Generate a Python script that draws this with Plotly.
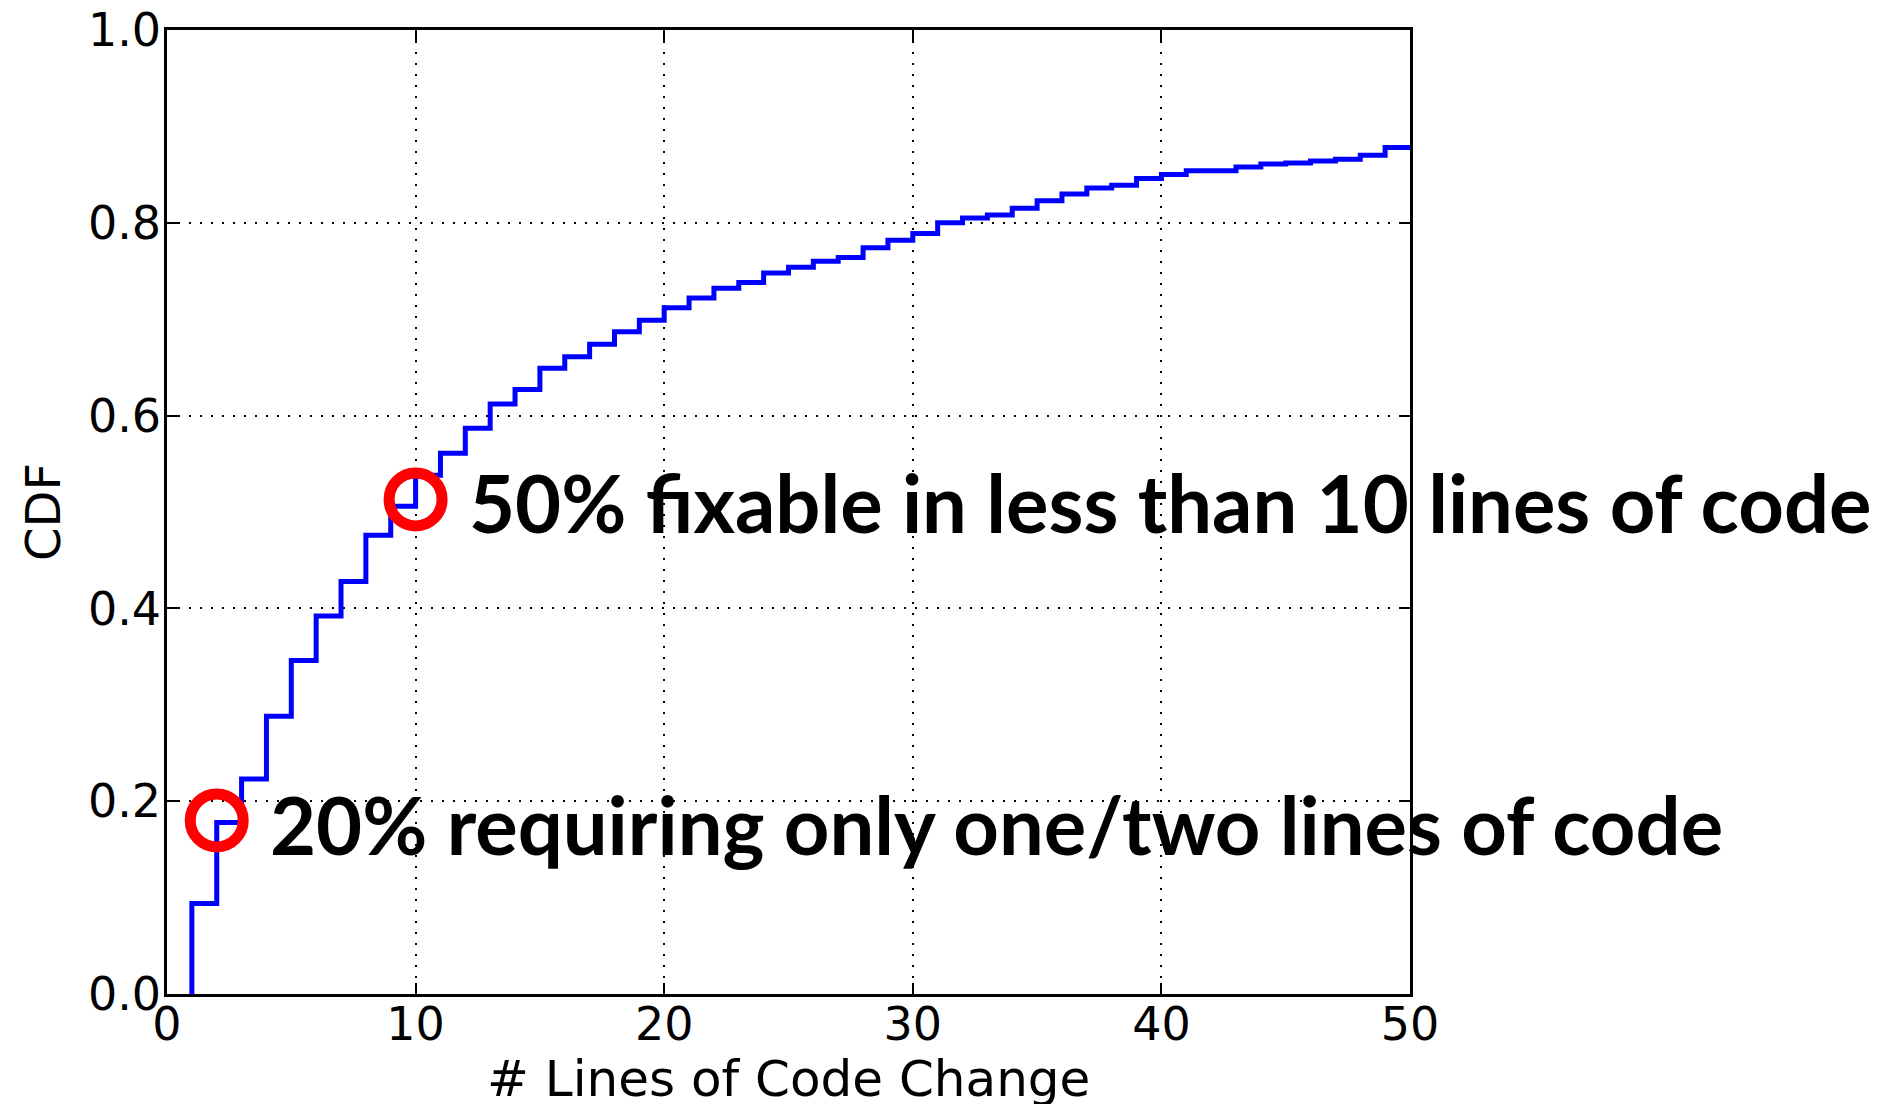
import plotly.graph_objects as go

# Step CDF: level reached at each line count (holds until next integer)
lines_changed = list(range(1, 50))
cdf_values = [0.094, 0.178, 0.223, 0.288, 0.346, 0.392, 0.428, 0.476, 0.506, 0.538,
              0.561, 0.587, 0.612, 0.627, 0.649, 0.661, 0.674, 0.687, 0.699, 0.712,
              0.722, 0.732, 0.738, 0.748, 0.754, 0.760, 0.764, 0.774, 0.782, 0.789,
              0.800, 0.805, 0.808, 0.815, 0.823, 0.830, 0.836, 0.839, 0.846, 0.850,
              0.854, 0.854, 0.858, 0.861, 0.862, 0.864, 0.866, 0.870, 0.878]

x_max = 50
highlight_x = [2, 10]
highlight_y = [0.18, 0.513]
annot_texts = ["20% requiring only one/two lines of code",
               "50% fixable in less than 10 lines of code"]
annot_x = [4.05, 12.05]
annot_y = [0.176, 0.510]
x_title = "# Lines of Code Change"
y_title = "CDF"

xs = [lines_changed[0]] + lines_changed + [x_max]
ys = [0.0] + cdf_values + [cdf_values[-1]]

fig = go.Figure()
fig.add_trace(go.Scatter(x=xs, y=ys, mode="lines", line=dict(color="#0000ff", width=5, shape="hv"),
                         showlegend=False, hoverinfo="skip"))
fig.add_trace(go.Scatter(x=highlight_x, y=highlight_y, mode="markers",
                         marker=dict(symbol="circle-open", size=53, color="#ff0000",
                                     line=dict(color="#ff0000", width=11)),
                         cliponaxis=False, showlegend=False, hoverinfo="skip"))

for t, ax_, ay_ in zip(annot_texts, annot_x, annot_y):
    fig.add_annotation(x=ax_, y=ay_, xref="x", yref="y", text="<b>" + t + "</b>", showarrow=False,
                       xanchor="left", yanchor="middle",
                       font=dict(family="Lato", size=79.5, color="black"))

# x-axis title placed as an annotation so it can sit as low as in the reference
fig.add_annotation(x=0.5, y=-0.056, xref="paper", yref="paper", text=x_title, showarrow=False,
                   xanchor="center", yanchor="top",
                   font=dict(family="DejaVu Sans", size=50, color="black"))

axis_common = dict(showline=True, linecolor="black", linewidth=2.5, mirror="ticks",
                   ticks="inside", ticklen=11, tickwidth=1.5, tickcolor="black",
                   showgrid=True, gridcolor="black", gridwidth=1.6, griddash="2px,9px",
                   zeroline=False, automargin=False, ticklabeloverflow="allow",
                   tickfont=dict(family="DejaVu Sans", size=46, color="black"))

fig.update_xaxes(range=[0, x_max], dtick=10, tick0=0, ticklabelstandoff=-12, **axis_common)
fig.update_yaxes(range=[0, 1], dtick=0.2, tick0=0, tickformat=".1f", ticklabelstandoff=-6,
                 title=dict(text=y_title, standoff=13,
                            font=dict(family="DejaVu Sans", size=48, color="black")),
                 **axis_common)

# page body has an 8px margin: figure sized/offset to keep plot area at the reference position
fig.update_layout(width=1880, height=1096, autosize=False,
                  margin=dict(l=159, r=478, t=22, b=110),
                  plot_bgcolor="white", paper_bgcolor="white")

fig.write_html("out.html")
